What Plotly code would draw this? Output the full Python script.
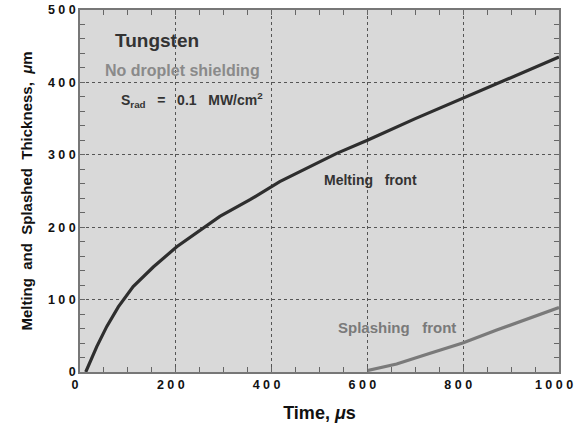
import plotly.graph_objects as go

# Melting front depth vs time
melt_t = [12, 20, 35, 56, 80, 111, 153, 202, 250, 292, 355, 417, 536, 600, 700, 800, 880, 1000]
melt_y = [0, 12, 35, 63, 90, 118, 145, 173, 196, 215, 238, 263, 302, 320, 350, 378, 401, 435]

# Splashing front depth vs time
splash_t = [600, 661, 731, 799, 870, 939, 1000]
splash_y = [2, 11, 26, 40, 58, 74, 89]

x_ticks = [0, 200, 400, 600, 800, 1000]
y_ticks = [0, 100, 200, 300, 400, 500]


def spaced(v):
    return "\u00a0".join(str(v))


FONT = "Liberation Sans, Arial, sans-serif"
GRID = "#555555"
TICKC = "#666666"

fig = go.Figure()
fig.add_trace(go.Scatter(x=melt_t, y=melt_y, mode="lines",
                         line=dict(color="#2e2e2e", width=3.2), showlegend=False))
fig.add_trace(go.Scatter(x=splash_t, y=splash_y, mode="lines",
                         line=dict(color="#7a7a7a", width=3.2), showlegend=False))
# empty trace so the mirrored top/right axes get drawn
fig.add_trace(go.Scatter(x=[], y=[], xaxis="x2", yaxis="y2", showlegend=False, hoverinfo="skip"))

tick_font = dict(family=FONT, size=12.5, color="#111111", weight="bold")

fig.update_layout(
    xaxis=dict(
        range=[0, 1000], tickvals=x_ticks, ticktext=[spaced(v) for v in x_ticks],
        showline=True, linecolor="#777777", linewidth=1.5, automargin=False,
        ticks="inside", ticklen=5, tickcolor=TICKC, tickwidth=1,
        minor=dict(dtick=50, ticks="inside", ticklen=5, tickcolor=TICKC, showgrid=False),
        showgrid=True, gridcolor=GRID, griddash="dot", gridwidth=1, zeroline=False,
        tickfont=tick_font, ticklabeloverflow="allow", ticklabelshift=-5,
        title=dict(text="Time, <i>μ</i>s",
                   font=dict(family=FONT, size=18, color="#111111", weight="bold"), standoff=16),
    ),
    yaxis=dict(
        range=[0, 500], tickvals=y_ticks, ticktext=[spaced(v) for v in y_ticks],
        showline=True, linecolor="#777777", linewidth=1.5, automargin=False,
        ticks="inside", ticklen=5, tickcolor=TICKC, tickwidth=1,
        minor=dict(dtick=20, ticks="inside", ticklen=5, tickcolor=TICKC, showgrid=False),
        showgrid=True, gridcolor=GRID, griddash="dot", gridwidth=1, zeroline=False,
        tickfont=tick_font, ticklabeloverflow="allow",
        title=dict(text="Melting  and  Splashed  Thickness,  <i>μ</i>m",
                   font=dict(family=FONT, size=15, color="#111111", weight="bold"), standoff=12),
    ),
    xaxis2=dict(
        overlaying="x", side="top", range=[0, 1000], showline=True, linecolor="#777777",
        linewidth=1.5, tickvals=x_ticks, showticklabels=False, automargin=False,
        ticks="inside", ticklen=5, tickcolor=TICKC,
        minor=dict(dtick=50, ticks="inside", ticklen=5, tickcolor=TICKC, showgrid=False),
        showgrid=False, zeroline=False,
    ),
    yaxis2=dict(
        overlaying="y", side="right", range=[0, 500], showline=True, linecolor="#777777",
        linewidth=1.5, tickvals=y_ticks, showticklabels=False, automargin=False,
        ticks="inside", ticklen=5, tickcolor=TICKC,
        minor=dict(dtick=20, ticks="inside", ticklen=5, tickcolor=TICKC, showgrid=False),
        showgrid=False, zeroline=False,
    ),
)

notes = [
    dict(x=161, y=458, text="<b>Tungsten</b>", size=19, color="#333333"),
    dict(x=215, y=417, text="<b>No droplet shielding</b>", size=16, color="#8a8a8a"),
    dict(x=234, y=376, text="<b>S<sub>rad</sub>   =   0.1   MW/cm<sup>2</sup></b>", size=14, color="#333333"),
    dict(x=607, y=265, text="<b>Melting   front</b>", size=14, color="#333333"),
    dict(x=662, y=61, text="<b>Splashing   front</b>", size=15, color="#7a7a7a"),
]
for n in notes:
    fig.add_annotation(x=n["x"], y=n["y"], text=n["text"], showarrow=False,
                       font=dict(family=FONT, size=n["size"], color=n["color"]))

fig.update_layout(
    width=574, height=430,
    margin=dict(l=80, r=15, t=10, b=58, autoexpand=False),
    paper_bgcolor="#ffffff", plot_bgcolor="#d9d9d9",
    font=dict(family=FONT),
)

fig.write_html("out.html")
